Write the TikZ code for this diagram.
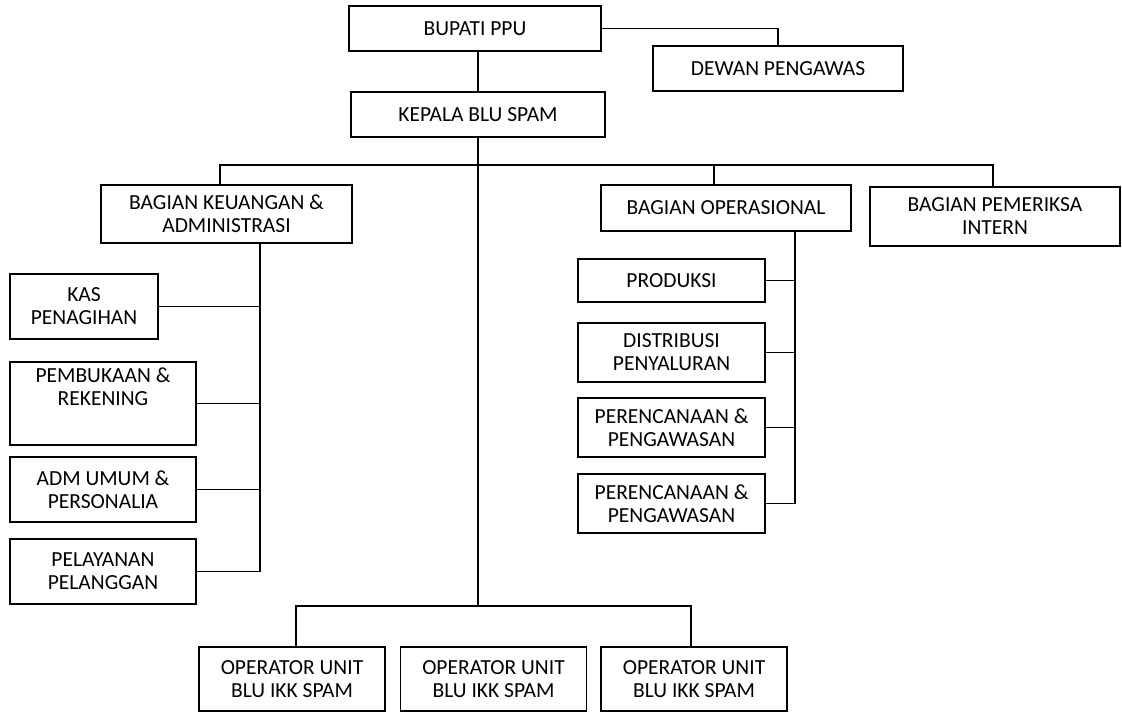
\documentclass[tikz,border=0pt]{standalone}
\usepackage{fontspec}
\setmainfont{Carlito}
\usepackage{tikz}
\usetikzlibrary{calc}
\usetikzlibrary{positioning}

\tikzset{
  unit/.style={draw, line width=1.3pt, align=center, inner sep=2pt,
    font=\fontsize{21.5}{23}\selectfont, minimum width=#1},
  unit/.default=186pt,
  link/.style={line width=1.3pt}
}

\begin{document}
\begin{tikzpicture}[x=1pt, y=-1pt]
\useasboundingbox (0,0) rectangle (1122,712);

%% top of the chart
\node[unit=252pt, minimum height=45pt] (bupati) at (475,28.5) {BUPATI PPU};
\node[unit=250pt, minimum height=45pt] (dewan) at (778,68.5) {DEWAN PENGAWAS};
\node[unit=254pt, minimum height=45pt] (kepala) at (478,114.5) {KEPALA BLU SPAM};

%% the three sections
\node[unit=251pt, minimum height=58pt] (keuangan) at (226.5,214) {BAGIAN KEUANGAN \&\\ADMINISTRASI};
\node[unit=250pt, minimum height=46pt] (operasional) at (726,208) {BAGIAN OPERASIONAL};
\node[unit=250pt, minimum height=59pt] (pemeriksa) at (995,216.5) {BAGIAN PEMERIKSA\\INTERN};

%% under keuangan
\node[unit=148pt, minimum height=65pt] (kas) at (84,306.5) {KAS\\PENAGIHAN};
\node[unit, minimum height=83pt] (pembukaan) at (103,403.5) {PEMBUKAAN \&\\REKENING\\[10pt]};
\node[unit, minimum height=65pt] (admumum) at (103,489.5) {ADM UMUM \&\\PERSONALIA};
\node[unit, minimum height=65pt] (pelayanan) at (103,571.5) {PELAYANAN\\PELANGGAN};

%% under operasional
\node[unit=187pt, minimum height=43pt] (produksi) at (671.5,280.5) {PRODUKSI};
\node[unit=187pt, minimum height=59pt] (distribusi) at (671.5,352.5) {DISTRIBUSI\\PENYALURAN};
\node[unit=187pt, minimum height=59pt] (perencA) at (671.5,427.5) {PERENCANAAN \&\\PENGAWASAN};
\node[unit=187pt, minimum height=59pt] (perencB) at (671.5,503.5) {PERENCANAAN \&\\PENGAWASAN};

%% operators
\node[unit, minimum height=64pt] (opA) at (292,679) {OPERATOR UNIT\\BLU IKK SPAM};
\node[unit, minimum height=64pt] (opB) at (493.5,679) {OPERATOR UNIT\\BLU IKK SPAM};
\node[unit, minimum height=64pt] (opC) at (694,679) {OPERATOR UNIT\\BLU IKK SPAM};

\coordinate (barL) at (220,165);
\coordinate (barR) at (993,165);
\coordinate (opjoin) at (714,165);
\coordinate (keubus) at (260,0);
\coordinate (opbus) at (795,0);
\coordinate (botL) at (296,606);
\coordinate (botR) at (691,606);

\draw[link] (bupati.east) -| (dewan.north);
\draw[link] (kepala.north |- bupati.south) -- (kepala.north);
\draw[link] (keuangan.north -| barL) |- (barR) -- (pemeriksa.north -| barR);
\draw[link] (opjoin) -- (operasional.north -| opjoin);
\draw[link] (kepala.south) -- (kepala.south |- botL);
\draw[link] (opA.north -| botL) |- (botR) -- (opC.north -| botR);

\draw[link] (keubus |- keuangan.south) -- (keubus |- pelayanan.east);
\foreach \n in {kas,pembukaan,admumum,pelayanan}
  \draw[link] (\n.east) -- (\n.east -| keubus);

\draw[link] (opbus |- operasional.south) -- (opbus |- perencB.east);
\foreach \n in {produksi,distribusi,perencA,perencB}
  \draw[link] (\n.east) -- (\n.east -| opbus);
\end{tikzpicture}
\end{document}
